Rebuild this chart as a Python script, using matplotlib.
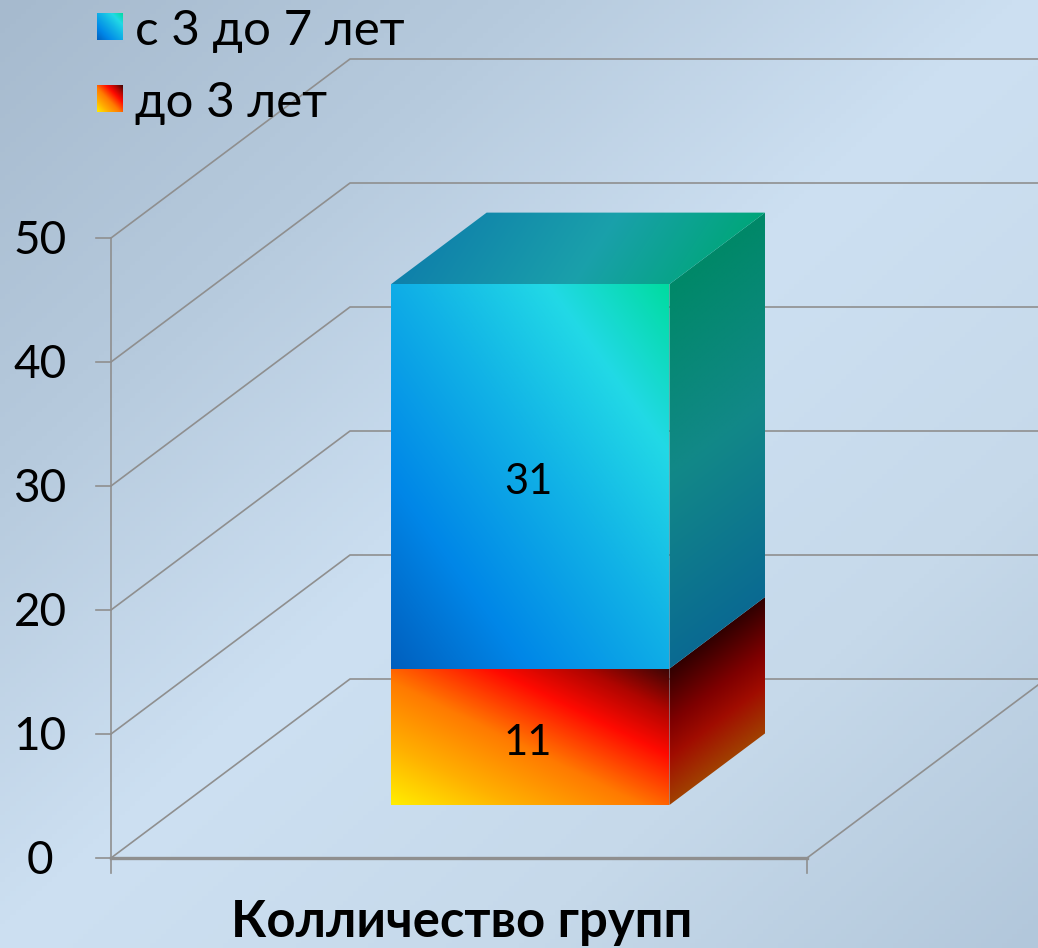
import numpy as np
import matplotlib
matplotlib.use('Agg')
import matplotlib.pyplot as plt
from matplotlib.colors import LinearSegmentedColormap
from matplotlib.patches import Polygon

plt.rcParams['font.family'] = ['Lato', 'Open Sans', 'DejaVu Sans']

# Data
category = 'Колличество групп'
series_names = ['до 3 лет', 'с 3 до 7 лет']
series_values = [11, 31]
value_ticks = [0, 10, 20, 30, 40, 50]

W, H = 1038, 948
GRID = '#8f8f8f'

# Oblique projection of the 3D chart box
ORIGIN_X, ORIGIN_Y = 111, 858
BOX_W = 696
UNIT = 12.4
DEPTH_X, DEPTH_Y = 239, 179


def proj(x, z, v):
    return (ORIGIN_X + x * BOX_W + z * DEPTH_X, ORIGIN_Y - v * UNIT - z * DEPTH_Y)


def cmap(*stops):
    return LinearSegmentedColormap.from_list('c', list(stops), N=512)


def grad_face(ax, o, e1, e2, c, ws, wr, zorder=3):
    """Parallelogram o, o+e1, o+e1+e2, o+e2, with a gradient in face coordinates."""
    o, e1, e2 = np.array(o), np.array(e1), np.array(e2)
    pts = np.array([o, o + e1, o + e1 + e2, o + e2])
    x0, y0 = pts.min(axis=0)
    x1, y1 = pts.max(axis=0)
    xx, yy = np.meshgrid(np.linspace(x0, x1, 300), np.linspace(y0, y1, 300))
    m = np.linalg.inv(np.column_stack([e1, e2]))
    s = m[0, 0] * (xx - o[0]) + m[0, 1] * (yy - o[1])
    r = m[1, 0] * (xx - o[0]) + m[1, 1] * (yy - o[1])
    t = np.clip(ws * s + wr * r, 0, 1)
    im = ax.imshow(t, cmap=c, vmin=0, vmax=1, extent=[x0, x1, y1, y0],
                   origin='upper', aspect='auto', zorder=zorder, interpolation='bilinear')
    im.set_clip_path(Polygon(pts, closed=True, transform=ax.transData))


fig = plt.figure(figsize=(W / 100, H / 100), dpi=100)
ax = fig.add_axes([0, 0, 1, 1])

# Background
xx, yy = np.meshgrid(np.linspace(0, 1, 200), np.linspace(0, 1, 200))
bg = cmap((0, '#a6bace'), (0.25, '#b6cadd'), (0.5, '#cde0f2'), (0.75, '#c6d9ea'), (1, '#b2c7db'))
ax.imshow((xx + yy) / 2, cmap=bg, vmin=0, vmax=1, extent=[0, W, H, 0], aspect='auto', zorder=0)

# Walls and grid
for v in value_ticks:
    a = proj(0, 0, v)
    b = proj(0, 1, v)
    ax.plot([a[0], b[0], W], [a[1], b[1], b[1]], color=GRID, lw=1.2, zorder=1)
    ax.plot([a[0] - 15, a[0]], [a[1], a[1]], color=GRID, lw=1.2, zorder=1)
    ax.text(a[0] - 71, a[1] + 3, str(v), fontsize=33,
            ha='center', va='center', color='black')

top = proj(0, 0, value_ticks[-1])
bl = proj(0, 0, 0)
br = proj(1, 0, 0)
ax.plot([top[0], bl[0], bl[0]], [top[1], bl[1], bl[1] + 15], color=GRID, lw=1.2, zorder=1)
ax.plot([bl[0], br[0]], [bl[1], br[1]], color=GRID, lw=2.4, zorder=1)
ax.plot([br[0], br[0]], [br[1], br[1] + 15], color=GRID, lw=1.2, zorder=1)
fr = proj(1, 1, 0)
ax.plot([br[0], fr[0]], [br[1], fr[1]], color=GRID, lw=1.2, zorder=1)

# Stacked 3D bar
BAR_X, BAR_W = 0.3007, 0.40
BAR_Z, BAR_D = 0.296, 0.40

front_cmaps = [
    cmap((0, '#ffee00'), (0.22, '#ffb000'), (0.45, '#ff7a00'), (0.68, '#ff0a00'), (0.84, '#b00500'), (1, '#3a0505')),
    cmap((0, '#005fbe'), (0.25, '#0087e8'), (0.55, '#12b4e6'), (0.78, '#22d9e6'), (1, '#00dca0')),
]
side_cmaps = [
    cmap((0, '#a04000'), (0.35, '#a00c00'), (0.6, '#7e0000'), (1, '#300000')),
    cmap((0, '#0a6a92'), (0.5, '#128888'), (1, '#008868')),
]
top_cmap = cmap((0, '#0f80aa'), (0.55, '#1aa0ab'), (1, '#00a67a'))

base = 0
for name, val, fc, sc in zip(series_names, series_values, front_cmaps, side_cmaps):
    o = proj(BAR_X, BAR_Z, base)
    right = proj(BAR_X + BAR_W, BAR_Z, base)
    up = proj(BAR_X, BAR_Z, base + val)
    back = proj(BAR_X + BAR_W, BAR_Z + BAR_D, base)
    e1 = (right[0] - o[0], 0)
    e2 = (0, up[1] - o[1])
    ed = (back[0] - right[0], back[1] - right[1])
    grad_face(ax, o, e1, e2, fc, 0.5, 0.5, zorder=4)
    grad_face(ax, right, ed, e2, sc, 0.0, 1.0, zorder=3)
    ax.text((o[0] + right[0]) / 2 - 2, (o[1] + up[1]) / 2 + 6, str(val), fontsize=30,
            ha='center', va='center', color='black', zorder=6)
    base += val

grad_face(ax, proj(BAR_X, BAR_Z, base), (BAR_W * BOX_W, 0), (BAR_D * DEPTH_X, -BAR_D * DEPTH_Y),
          top_cmap, 0.85, 0.15, zorder=3)

# Legend
swatches = [front_cmaps[1], front_cmaps[0]]
labels = series_names[::-1]
for i, (c, lab) in enumerate(zip(swatches, labels)):
    y = 13 + i * 72
    grad_face(ax, (97, y + 27), (26, 0), (0, -27), c, 0.5, 0.5, zorder=5)
    ax.text(135, y + 18, lab, fontsize=35.5, ha='left', va='center', color='black', zorder=6)

# Category label
ax.text(462, 923, category, fontsize=36.5, fontweight='bold', ha='center', va='center', color='black')

ax.set_xlim(0, W)
ax.set_ylim(H, 0)
ax.axis('off')

fig.savefig('out.png', dpi=100)
